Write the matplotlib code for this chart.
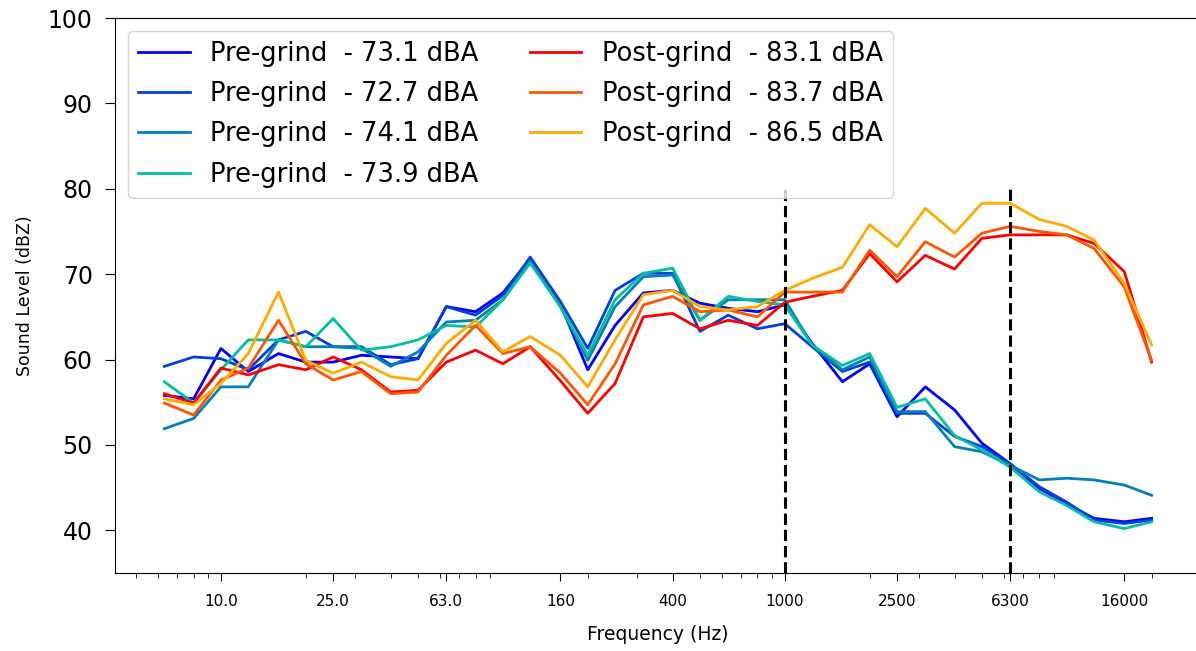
import matplotlib
matplotlib.use("Agg")
import matplotlib.pyplot as plt
import numpy as np

# 1/3 octave band centre frequencies (Hz)
freqs = [6.3, 8, 10, 12.5, 16, 20, 25, 31.5, 40, 50, 63, 80, 100, 125, 160, 200,
         250, 315, 400, 500, 630, 800, 1000, 1250, 1600, 2000, 2500, 3150, 4000,
         5000, 6300, 8000, 10000, 12500, 16000, 20000]

pre_1 = [55.8, 55.4, 61.3, 58.6, 60.7, 59.7, 59.7, 60.5, 60.3, 60.1, 66.2, 65.6,
         67.8, 71.8, 66.5, 58.8, 64.0, 67.8, 68.1, 66.6, 66.0, 65.6, 66.4, 61.9,
         57.4, 59.5, 53.3, 56.8, 54.1, 50.2, 47.8, 44.9, 43.1, 41.4, 41.0, 41.4]
pre_2 = [59.2, 60.3, 60.1, 58.8, 62.3, 63.3, 61.5, 61.5, 59.4, 60.1, 66.2, 65.2,
         67.5, 72.0, 66.8, 61.3, 68.1, 70.1, 70.1, 63.3, 65.2, 63.6, 64.2, 61.5,
         58.6, 59.7, 53.7, 53.7, 51.0, 49.8, 47.8, 45.1, 43.3, 41.2, 40.8, 41.2]
pre_3 = [51.9, 53.1, 56.8, 56.8, 62.3, 61.5, 61.5, 61.3, 59.2, 60.9, 64.4, 64.6,
         67.0, 71.5, 66.2, 59.9, 66.2, 69.7, 69.9, 64.6, 67.0, 67.0, 67.0, 61.7,
         58.8, 60.3, 53.9, 53.9, 49.8, 49.2, 47.6, 45.9, 46.1, 45.9, 45.3, 44.1]
pre_4 = [57.4, 54.9, 58.8, 62.3, 62.3, 61.5, 64.8, 61.1, 61.5, 62.3, 64.0, 63.8,
         67.0, 71.3, 66.2, 60.5, 67.0, 70.1, 70.7, 64.6, 67.4, 66.8, 66.4, 61.7,
         59.3, 60.7, 54.4, 55.4, 51.1, 49.4, 47.4, 44.5, 42.9, 41.0, 40.2, 41.0]
post_1 = [56.0, 54.9, 59.0, 58.2, 59.4, 58.8, 60.3, 58.8, 56.2, 56.4, 59.7, 61.1,
          59.5, 61.5, 57.5, 53.7, 57.2, 65.0, 65.4, 63.6, 64.6, 64.0, 66.7, 67.4,
          68.1, 72.4, 69.1, 72.2, 70.6, 74.2, 74.6, 74.6, 74.6, 73.6, 70.3, 59.7]
post_2 = [54.9, 53.5, 57.6, 59.0, 64.6, 59.5, 57.6, 58.6, 56.0, 56.2, 60.5, 64.0,
          60.7, 61.5, 58.4, 54.7, 59.5, 66.4, 67.4, 65.6, 65.8, 65.0, 67.9, 67.9,
          67.9, 72.8, 69.7, 73.8, 72.0, 74.8, 75.6, 75.0, 74.6, 73.0, 68.5, 59.9]
post_3 = [55.4, 54.7, 57.2, 60.7, 67.9, 59.9, 58.4, 59.7, 58.0, 57.6, 61.9, 64.6,
          60.9, 62.7, 60.5, 56.8, 62.3, 67.6, 68.1, 66.2, 65.8, 66.2, 68.1, 69.5,
          70.8, 75.8, 73.2, 77.7, 74.8, 78.3, 78.3, 76.4, 75.6, 74.0, 68.9, 61.7]

pre_dba = ["73.1", "72.7", "74.1", "73.9"]
post_dba = ["83.1", "83.7", "86.5"]

tick_freqs = [10.0, 25.0, 63.0, 160, 400, 1000, 2500, 6300, 16000]
tick_labels = ["10.0", "25.0", "63.0", "160", "400", "1000", "2500", "6300", "16000"]
marker_freqs = [1000, 6300]

pre = [pre_1, pre_2, pre_3, pre_4]
post = [post_1, post_2, post_3]
pre_cols = plt.cm.winter(np.linspace(0, 1, len(pre) + 1)[:-1])
post_cols = plt.cm.autumn(np.linspace(0, 1, len(post) + 1)[:-1])

fig = plt.figure(figsize=(11.96, 6.51), dpi=100)
ax = fig.add_axes([115 / 1196, 78 / 651, 1086 / 1196, 555 / 651])
ax.set_xscale("log")

for vals, c, lab in zip(pre, pre_cols, pre_dba):
    ax.plot(freqs, vals, color=c, lw=2, label=f"Pre-grind  - {lab} dBA")
for vals, c, lab in zip(post, post_cols, post_dba):
    ax.plot(freqs, vals, color=c, lw=2, label=f"Post-grind  - {lab} dBA")

ax.vlines(marker_freqs, 35, 80, colors="k", linestyles="--", linewidth=2.2)

# usual 5% margin, in log space
lo, hi = np.log10(freqs[0]), np.log10(freqs[-1])
pad = 0.05 * (hi - lo)
ax.set_xlim(10 ** (lo - pad), 10 ** (hi + pad))

ax.set_xticks(tick_freqs)
ax.set_xticklabels(tick_labels, fontsize=11)
ax.set_ylim(35, 100)
ax.set_yticks(range(40, 101, 10))
ax.tick_params(axis="y", labelsize=17, length=7, pad=9)
ax.tick_params(axis="x", which="major", length=6, pad=9)
ax.tick_params(axis="x", which="minor", length=3.5)
ax.set_xlabel("Frequency (Hz)", fontsize=13.5, labelpad=12)
ax.set_ylabel("Sound Level (dBZ)", fontsize=12.5, labelpad=10)
ax.legend(loc="upper left", ncol=2, fontsize=18.5, labelspacing=0.55)

fig.savefig("out.png", dpi=100)
